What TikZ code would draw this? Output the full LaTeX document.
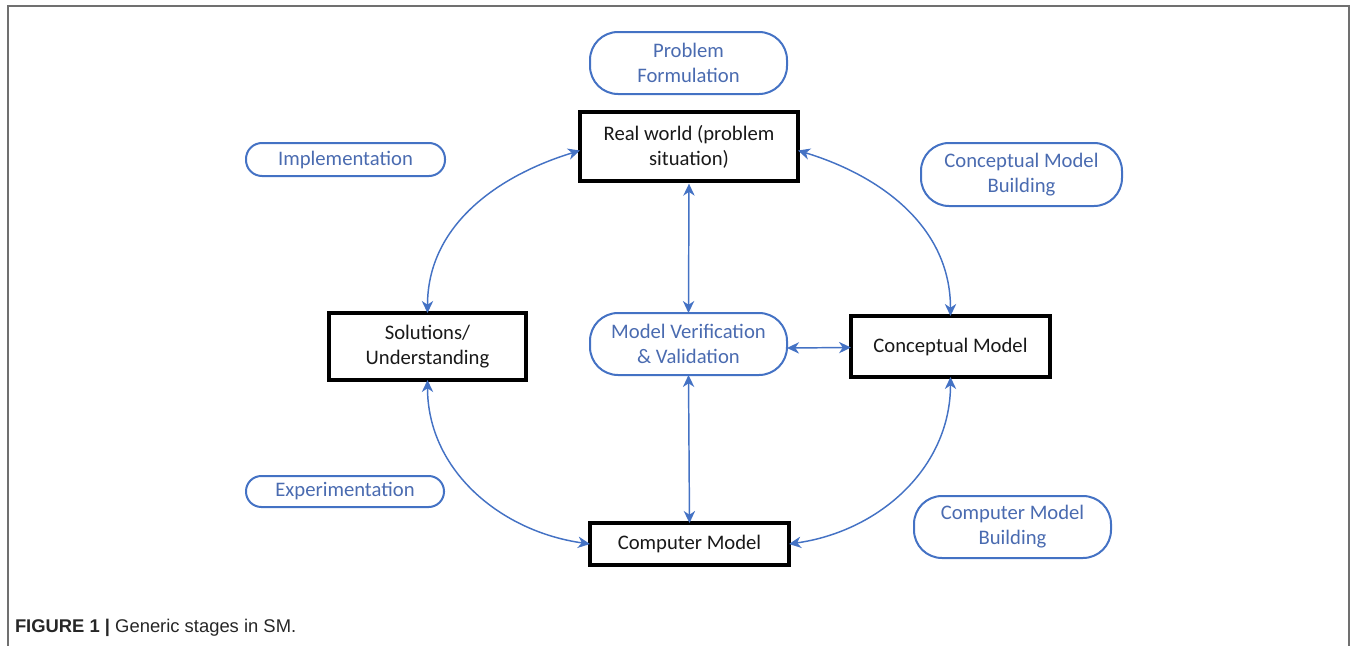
\documentclass[tikz,border=0pt]{standalone}
\usepackage{fontspec}
\setmainfont{Carlito}
\newfontfamily\capfont{Liberation Sans}
\usetikzlibrary{arrows.meta}
\definecolor{ablue}{HTML}{4472C4}
\definecolor{tblue}{HTML}{4A6BB0}
\definecolor{frameg}{HTML}{707070}
\begin{document}
\begin{tikzpicture}[x=0.75pt,y=0.75pt,
  every node/.style={inner sep=0pt,outer sep=0pt,align=center,font=\fontsize{15.5}{18.75}\selectfont},
  soft/.style={draw=ablue,line width=1.5pt,text=tblue},
  hard/.style={draw=black,line width=3pt,text=black!90},
  arr/.style={draw=ablue,line width=1.1pt,{Stealth[length=9pt,width=8.5pt,inset=2.8pt]}-{Stealth[length=9pt,width=8.5pt,inset=2.8pt]}}
]
\useasboundingbox (0,0) rectangle (1357,-646);
\draw[frameg,line width=1.5pt] (8,-646) -- (8,-6) -- (1349,-6) -- (1349,-646);

\node[soft,minimum width=147.75pt,minimum height=46.5pt,rounded corners=21pt] (pf) at (688.5,-63) {Problem\\Formulation};
\node[hard,minimum width=163.5pt,minimum height=51.75pt] (rw) at (689,-146.5) {Real world (problem\\situation)};
\node[soft,minimum width=149.25pt,minimum height=24.75pt,rounded corners=12pt] (impl) at (345.5,-159.5) {Implementation};
\node[soft,minimum width=150.75pt,minimum height=47.25pt,rounded corners=21pt] (cmb) at (1021.5,-174.5) {Conceptual Model\\Building};
\node[hard,minimum width=147.75pt,minimum height=50.25pt] (sol) at (427.5,-346.5) {Solutions/\\Understanding};
\node[soft,minimum width=147.75pt,minimum height=46.5pt,rounded corners=21pt] (mvv) at (688.5,-344) {Model Verification\\\& Validation};
\node[hard,minimum width=149.25pt,minimum height=45.75pt] (cm) at (950.5,-346.5) {Conceptual Model};
\node[soft,minimum width=148.5pt,minimum height=23.25pt,rounded corners=11.5pt] (exp) at (345,-491.5) {Experimentation};
\node[hard,minimum width=149.25pt,minimum height=31.5pt] (comp) at (689.5,-544) {Computer Model};
\node[soft,minimum width=147.75pt,minimum height=46.5pt,rounded corners=21pt] (cmpb) at (1012.5,-527) {Computer Model\\Building};

\draw[arr] (sol.north) to[out=90,in=197] ([yshift=-3pt]rw.west);
\draw[arr] (cm.north) to[out=90,in=-17] ([yshift=-3pt]rw.east);
\draw[arr] (sol.south) to[out=-90,in=172] (comp.west);
\draw[arr] (cm.south) to[out=-90,in=8] (comp.east);
\draw[arr] ([yshift=-2pt]rw.south) -- (mvv.north);
\draw[arr] (mvv.south) -- (comp.north);
\draw[arr] ([yshift=-3pt]mvv.east) -- ([yshift=-0.75pt]cm.west);

\node[anchor=base west,font=\capfont\fontsize{13.8}{16}\selectfont,text=black!85] (cap) at (15,-632) {\textbf{FIGURE 1 |} Generic stages in SM.};
\end{tikzpicture}
\end{document}
